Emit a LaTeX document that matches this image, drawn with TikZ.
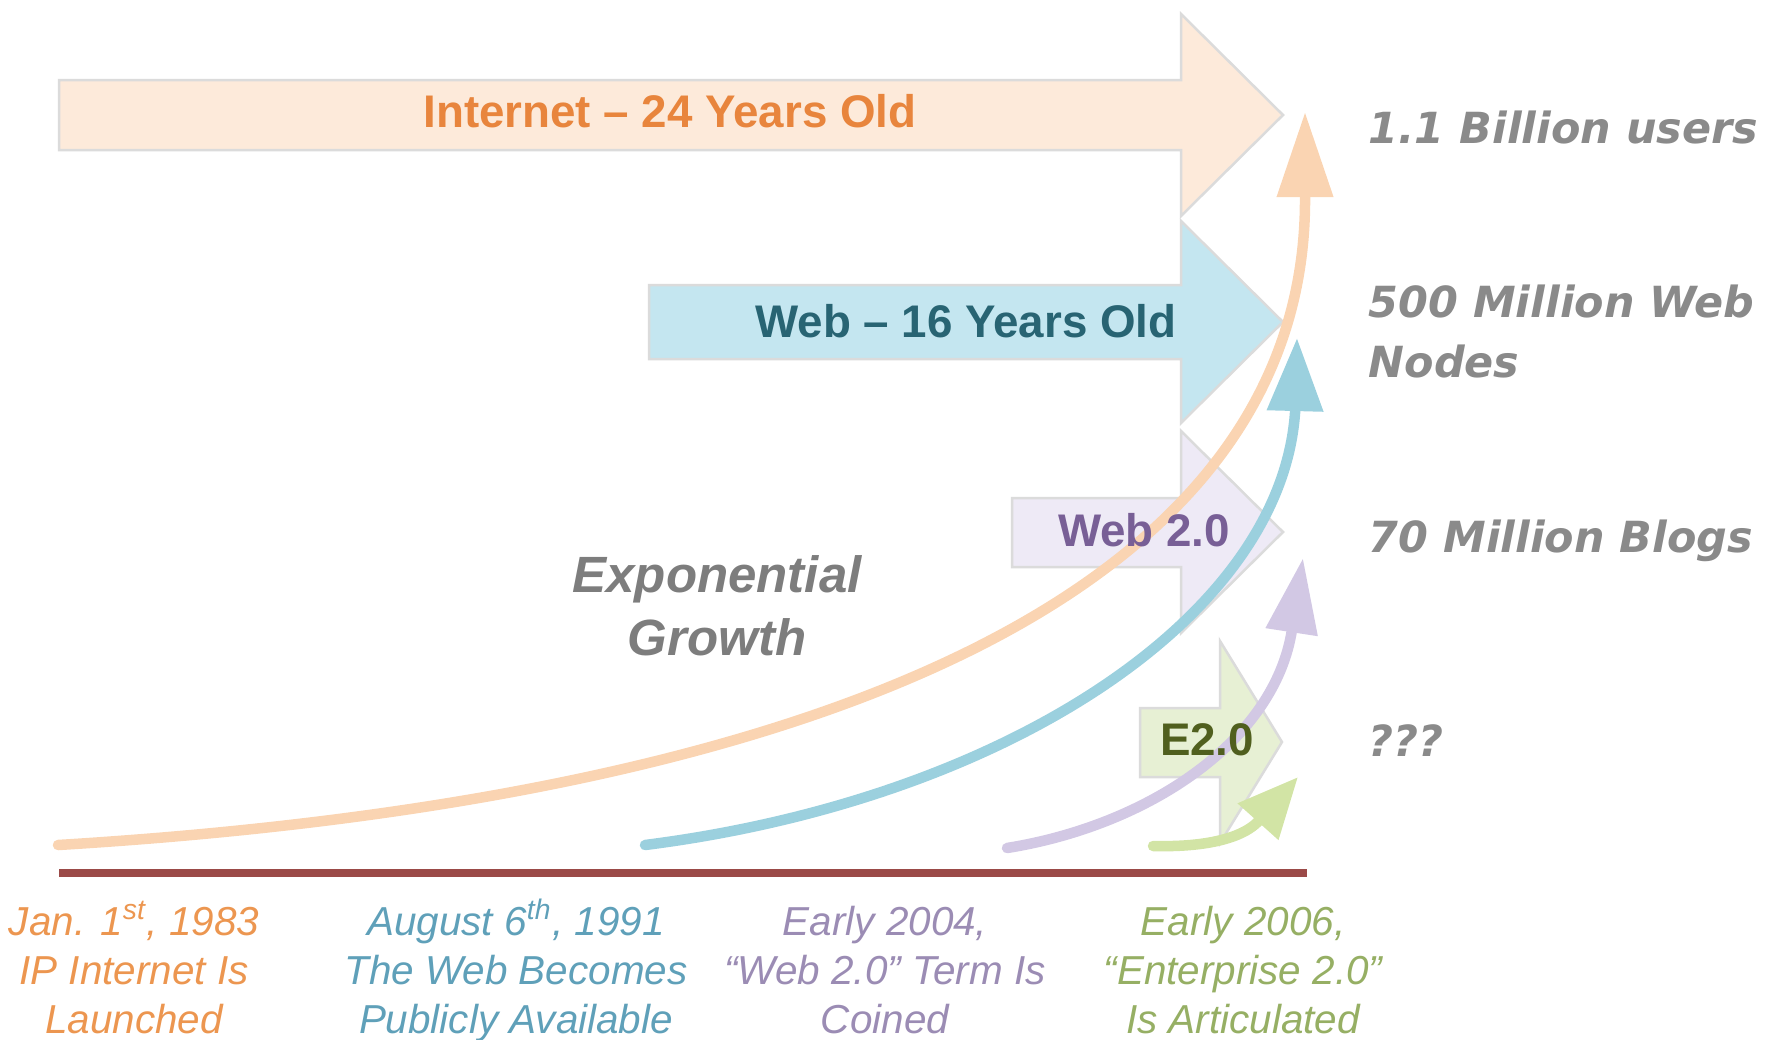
\documentclass[tikz,border=0pt]{standalone}
\usepackage{fontspec}
\setmainfont{Liberation Sans}
\newfontfamily\statfont{DejaVu Sans}
\usetikzlibrary{arrows.meta}

\definecolor{inetfill}{RGB}{253,234,218}
\definecolor{inettext}{RGB}{232,133,61}
\definecolor{webfill}{RGB}{196,230,240}
\definecolor{webtext}{RGB}{40,100,115}
\definecolor{wtwofill}{RGB}{238,234,246}
\definecolor{wtwotext}{RGB}{120,95,150}
\definecolor{etwofill}{RGB}{231,240,212}
\definecolor{etwotext}{RGB}{80,95,30}
\definecolor{curveorange}{RGB}{250,212,178}
\definecolor{curveblue}{RGB}{155,208,222}
\definecolor{curvepurple}{RGB}{210,200,228}
\definecolor{curvegreen}{RGB}{210,228,165}
\definecolor{statgray}{RGB}{138,138,138}
\definecolor{expgray}{RGB}{125,125,125}
\definecolor{axisred}{RGB}{155,74,72}
\definecolor{lblorange}{RGB}{236,150,80}
\definecolor{lblblue}{RGB}{95,160,185}
\definecolor{lblpurple}{RGB}{155,140,180}
\definecolor{lblgreen}{RGB}{150,175,100}

\tikzset{
  blockarrow/.style={draw=black!14, line width=0.025cm, line join=miter},
  growth/.style={line width=1.05mm, line cap=round},
  arrowlabel/.style={font=\fontsize{13}{15}\selectfont\bfseries, inner sep=0pt},
  stat/.style={font=\statfont\fontsize{12.2}{14}\selectfont\bfseries\itshape, text=statgray, inner sep=0pt, anchor=base west},
  datelabel/.style={font=\fontsize{11.5}{13.9}\selectfont\itshape, inner sep=0pt, align=center, anchor=base},
  explabel/.style={font=\fontsize{14.5}{17.8}\selectfont\bfseries\itshape, text=expgray, inner sep=0pt, align=center, anchor=base}
}

\begin{document}
\begin{tikzpicture}[x=0.01cm, y=-0.01cm]
\useasboundingbox (0,0) rectangle (1780,1039);

% block arrows
\draw[blockarrow, fill=inetfill] (59,80) -- (1181,80) -- (1181,14) -- (1283,115) -- (1181,216) -- (1181,150) -- (59,150) -- cycle;
\draw[blockarrow, fill=webfill] (649,285) -- (1181,285) -- (1181,221) -- (1283,322) -- (1181,423) -- (1181,359) -- (649,359) -- cycle;
\draw[blockarrow, fill=wtwofill] (1012,498) -- (1181,498) -- (1181,431) -- (1283,532) -- (1181,633) -- (1181,567) -- (1012,567) -- cycle;
\draw[blockarrow, fill=etwofill] (1140,708) -- (1220,708) -- (1220,641) -- (1282,742) -- (1220,843) -- (1220,777) -- (1140,777) -- cycle;

% axis
\coordinate (axL) at (59,873);
\coordinate (axR) at (1307,873);
\draw[axisred, line width=0.75mm] (axL) -- (axR);

% growth curves
\coordinate (oS) at (58,845);
\coordinate (oE) at (1305,112);
\coordinate (bS) at (645,845);
\coordinate (bE) at (1297,338);
\coordinate (pS) at (1007,848);
\coordinate (pE) at (1303,558);
\coordinate (gS) at (1153,846);
\coordinate (gE) at (1298,777);

\draw[growth, curveorange, -{Triangle[length=8.5mm,width=5.4mm]}]
  (oS) .. controls (800,800) and (1305,600) .. (1305,200) -- (oE);
\draw[growth, curveblue, -{Triangle[length=7.3mm,width=5.4mm]}]
  (bS) .. controls (1000,800) and (1280,620) .. (1295,413) -- (bE);
\draw[growth, curvepurple, -{Triangle[length=7.5mm,width=5mm]}]
  (pS) .. controls (1150,825) and (1275,740) .. (pE);
\draw[growth, curvegreen, -{Triangle[length=6mm,width=5.2mm]}]
  (gS) .. controls (1235,848) and (1255,825) .. (gE);

% arrow labels
\node[arrowlabel, text=inettext] (tInet) at (670,111) {Internet – 24 Years Old};
\node[arrowlabel, text=webtext, anchor=east] (tWeb) at (1177,321) {Web – 16 Years Old};
\node[arrowlabel, text=wtwotext] (tWtwo) at (1144,530) {Web 2.0};
\node[arrowlabel, text=etwotext] (tEtwo) at (1207,740) {E2.0};

% statistics
\node[stat] (s1) at (1368,143) {1.1 Billion users};
\node[stat] (s2) at (1368,317) {500 Million Web};
\node[stat] (s2b) at (1368,377) {Nodes};
\node[stat] (s3) at (1368,552) {70 Million Blogs};
\node[stat] (s4) at (1368,756) {???};

% exponential growth (anchor = baseline of last line)
\node[explabel] (exp) at (717,655) {Exponential\\Growth};

% dates (anchor = baseline of last line)
\node[datelabel, text=lblorange] (d1) at (134,1033) {Jan. 1\textsuperscript{st}, 1983\\IP Internet Is\\Launched};
\node[datelabel, text=lblblue] (d2) at (516,1033) {August 6\textsuperscript{th}, 1991\\The Web Becomes\\Publicly Available};
\node[datelabel, text=lblpurple] (d3) at (885,1033) {Early 2004,\\“Web 2.0” Term Is\\Coined};
\node[datelabel, text=lblgreen] (d4) at (1243,1033) {Early 2006,\\“Enterprise 2.0”\\Is Articulated};
\end{tikzpicture}
\end{document}
